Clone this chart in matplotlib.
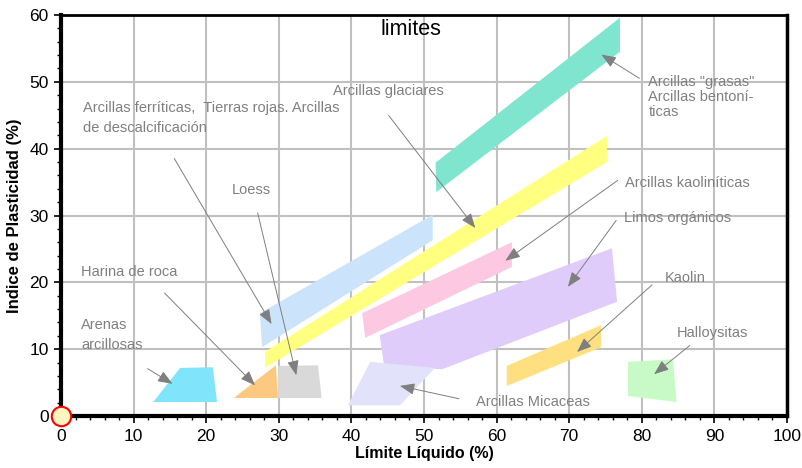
import matplotlib.pyplot as plt
from matplotlib.patches import Polygon
from matplotlib.ticker import MultipleLocator

# soil zones: fill colour and vertices as (LL, IP)
zone_names = ["grasas", "glaciares", "ferriticas", "kaoliniticas", "limos",
              "micaceas", "kaolin", "halloysitas", "arenas", "harina", "loess"]
zone_colors = ["#80e5cf", "#ffff80", "#cce4fb", "#fcc8e2", "#e0ccfa",
               "#e2e2fa", "#ffe080", "#c8fac8", "#80e5fb", "#fdc880", "#d9d9d9"]
zone_verts = [
    [(51.7, 33.5), (51.6, 37.9), (77.0, 59.6), (77.0, 54.5)],
    [(28.1, 7.2), (28.1, 9.6), (75.2, 41.9), (75.2, 38.0)],
    [(27.7, 10.3), (27.4, 15.4), (51.2, 30.1), (51.2, 26.3)],
    [(41.9, 11.7), (41.5, 15.4), (62.1, 26.0), (62.1, 22.3)],
    [(43.9, 12.1), (44.5, 7.5), (52.5, 7.0), (76.6, 17.1), (75.9, 25.1)],
    [(39.5, 1.6), (42.6, 8.1), (51.5, 7.2), (46.7, 1.6)],
    [(61.4, 4.5), (61.4, 7.5), (74.4, 13.6), (74.4, 10.3)],
    [(78.1, 8.1), (84.3, 8.5), (84.8, 2.1), (78.1, 3.0)],
    [(12.7, 2.1), (16.4, 7.2), (20.9, 7.3), (21.5, 2.1)],
    [(23.8, 2.7), (29.6, 7.6), (29.9, 2.7)],
    [(29.9, 7.5), (35.4, 7.6), (35.9, 2.7), (29.9, 2.7)],
]

# labels: text, text position, arrow start, arrow tip
label_texts = [
    "Arcillas ferríticas,  Tierras rojas. Arcillas\nde descalcificación",
    "Loess",
    "Arcillas glaciares",
    'Arcillas "grasas"\nArcillas bentoní-\nticas',
    "Arcillas kaoliníticas",
    "Limos orgánicos",
    "Kaolin",
    "Halloysitas",
    "Arcillas Micaceas",
    "Harina de roca",
    "Arenas\narcillosas",
]
label_pos = [(3.0, 47.1), (23.5, 33.8), (37.5, 48.6), (80.9, 51.0), (77.7, 34.9),
             (77.5, 29.6), (83.1, 20.6), (84.8, 12.4), (57.2, 2.1), (2.8, 21.5),
             (2.8, 14.7)]
label_spacing = [1.5, 1.2, 1.2, 1.1, 1.2, 1.2, 1.2, 1.2, 1.2, 1.2, 1.55]
arrow_from = [(15.4, 38.9), (27.0, 30.8), (44.9, 45.3), (80.0, 50.3), (77.0, 35.5),
              (76.7, 29.6), (81.7, 19.9), (86.9, 10.8), (55.2, 2.5), (14.0, 18.7),
              (11.6, 7.3)]
arrow_to = [(29.2, 13.4), (32.5, 5.7), (57.3, 27.8), (74.1, 54.3), (60.9, 23.0),
            (69.6, 19.0), (70.8, 9.3), (81.4, 6.0), (46.3, 4.6), (27.0, 4.3),
            (15.7, 4.6)]

plt.rcParams['font.family'] = ['Liberation Sans', 'DejaVu Sans']

fig = plt.figure(figsize=(8.03, 4.68), dpi=100)
ax = fig.add_axes([0.076, 0.111, 0.904, 0.857])

for verts, col in zip(zone_verts, zone_colors):
    ax.add_patch(Polygon(verts, closed=True, facecolor=col, edgecolor='none', zorder=2))

for txt, pos, ls, p0, p1 in zip(label_texts, label_pos, label_spacing, arrow_from, arrow_to):
    ax.text(pos[0], pos[1], txt, color='#808080', fontsize=10.5, ha='left',
            va='top' if '\n' in txt else 'center', linespacing=ls, zorder=4)
    ax.annotate('', xy=p1, xytext=p0,
                arrowprops=dict(arrowstyle='-|>,head_length=0.9,head_width=0.35',
                                color='#7f7f7f', lw=0.7), zorder=4)

ax.text(0.482, 0.99, 'limites', transform=ax.transAxes, ha='center', va='top',
        fontsize=15.5, color='black', zorder=5)

# origin marker
ax.plot([0], [0], 'o', ms=14, mfc='#fff5c0', mec='red', mew=1.5, clip_on=False, zorder=6)

ax.set_xlim(0, 100)
ax.set_ylim(0, 60)
ax.xaxis.set_major_locator(MultipleLocator(10))
ax.yaxis.set_major_locator(MultipleLocator(10))
ax.xaxis.set_minor_locator(MultipleLocator(2))
ax.yaxis.set_minor_locator(MultipleLocator(2))
ax.tick_params(which='major', direction='out', length=5, width=1.2, labelsize=12.5, pad=4)
ax.tick_params(which='minor', direction='out', length=3, width=1)
ax.grid(True, which='major', color='#c0c0c0', lw=1.5, zorder=1)
ax.set_axisbelow(True)

ax.spines['left'].set_linewidth(3)
ax.spines['bottom'].set_linewidth(3)
ax.spines['right'].set_linewidth(2.5)
ax.spines['top'].set_linewidth(2)

ax.set_xlabel('Límite Líquido (%)', fontsize=11.5, fontweight='bold', labelpad=2)
ax.set_ylabel('Indice de Plasticidad (%)', fontsize=12, fontweight='bold', labelpad=5)

fig.savefig('out.png', dpi=100)
